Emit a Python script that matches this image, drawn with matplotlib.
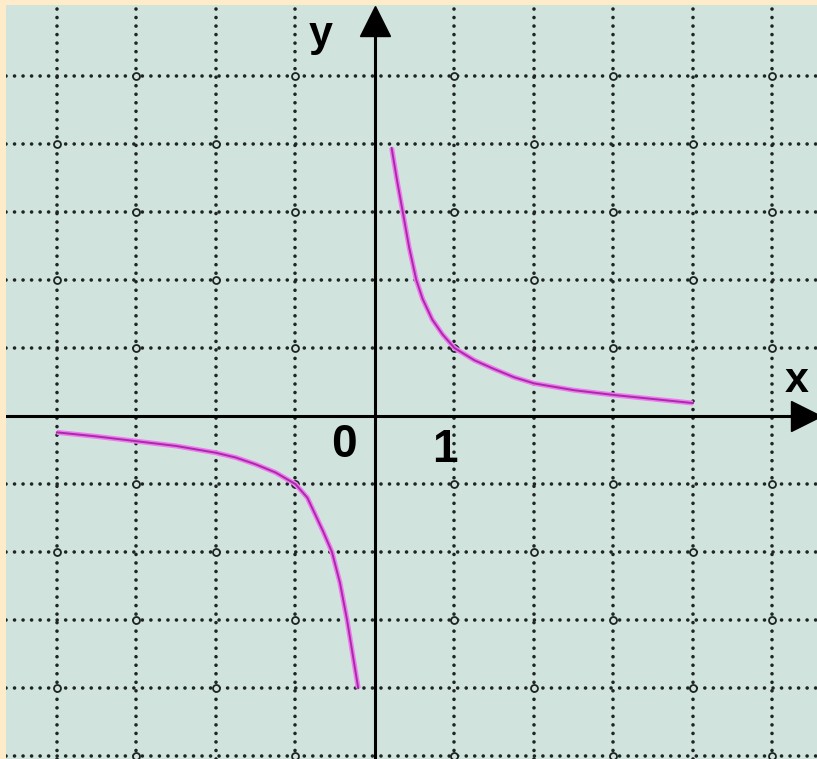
import matplotlib
matplotlib.use("Agg")
import matplotlib.pyplot as plt

# curve points (hyperbola, two branches)
right_x = [0.21, 0.28, 0.35, 0.43, 0.52, 0.6, 0.72, 0.85, 1.0, 1.25, 1.5, 1.75,
           2.0, 2.5, 3.0, 3.5, 4.0]
right_y = [3.94, 3.45, 3.0, 2.48, 2.0, 1.72, 1.42, 1.2, 1.0, 0.82, 0.69, 0.57,
           0.48, 0.38, 0.31, 0.25, 0.19]
left_x = [-4.0, -3.5, -3.0, -2.5, -2.0, -1.75, -1.5, -1.25, -1.0, -0.85, -0.75,
          -0.65, -0.54, -0.44, -0.35, -0.28, -0.21]
left_y = [-0.24, -0.3, -0.37, -0.44, -0.54, -0.61, -0.71, -0.83, -1.0, -1.2,
          -1.45, -1.7, -2.0, -2.45, -3.0, -3.5, -4.0]

grid_x = [-4, -3, -2, -1, 1, 2, 3, 4, 5]
grid_y = [-5, -4, -3, -2, -1, 1, 2, 3, 4, 5]

bg_border = "#fdebca"
bg_plot = "#d0e3dd"
dot_color = "#1e2424"

fig = plt.figure(figsize=(8.17, 7.59), dpi=100, facecolor=bg_border)
ax = fig.add_axes([6 / 817, 0, 811 / 817, 754 / 759])
ax.set_facecolor(bg_plot)
ax.set_xlim(-4.64, 5.56)
ax.set_ylim(-5.04, 6.04)
for s in ax.spines.values():
    s.set_visible(False)
ax.set_xticks([])
ax.set_yticks([])

# dotted grid
dots = (0, (0.01, 2.35))
for gx in grid_x:
    ax.axvline(gx, color=dot_color, lw=2.6, linestyle=dots, dash_capstyle="round", zorder=1)
for gy in grid_y:
    ax.axhline(gy, color=dot_color, lw=2.6, linestyle=dots, dash_capstyle="round", zorder=1)

# small hollow rings on every other grid crossing
ring_x = [gx for gx in grid_x for gy in grid_y if (gx + gy) % 2 == 0]
ring_y = [gy for gx in grid_x for gy in grid_y if (gx + gy) % 2 == 0]
ax.plot(ring_x, ring_y, "o", ms=5, mfc=bg_plot, mec=dot_color, mew=1.3, zorder=2)

# axes with arrow heads
ax.plot([-4.64, 5.4], [0, 0], color="black", lw=2.2, zorder=3)
ax.plot([0, 0], [-5.04, 5.8], color="black", lw=2.2, zorder=3)
ax.plot([0], [5.8], marker="^", ms=22, color="black", zorder=4)
ax.plot([5.42], [0], marker=">", ms=22, color="black", zorder=4)

# hyperbola branches
for bx, by in [(right_x, right_y), (left_x, left_y)]:
    ax.plot(bx, by, color="#f07af0", lw=3.6, solid_capstyle="butt", zorder=5)
    ax.plot(bx, by, color="#a82aa8", lw=1.4, zorder=6)

font = ["Liberation Sans", "DejaVu Sans"]
ax.text(-0.68, 5.6, "y", fontsize=31, fontweight="bold", family=font,
        ha="center", va="center", zorder=7)
ax.text(5.3, 0.52, "x", fontsize=31, fontweight="bold", family=font,
        ha="center", va="center", zorder=7)
ax.text(-0.39, -0.43, "0", fontsize=33, fontweight="bold", family=font,
        ha="center", va="center", zorder=7)
ax.text(0.88, -0.5, "1", fontsize=33, fontweight="bold", family=font,
        ha="center", va="center", zorder=7)

fig.savefig("out.png", dpi=100, facecolor=bg_border)
plt.close(fig)
